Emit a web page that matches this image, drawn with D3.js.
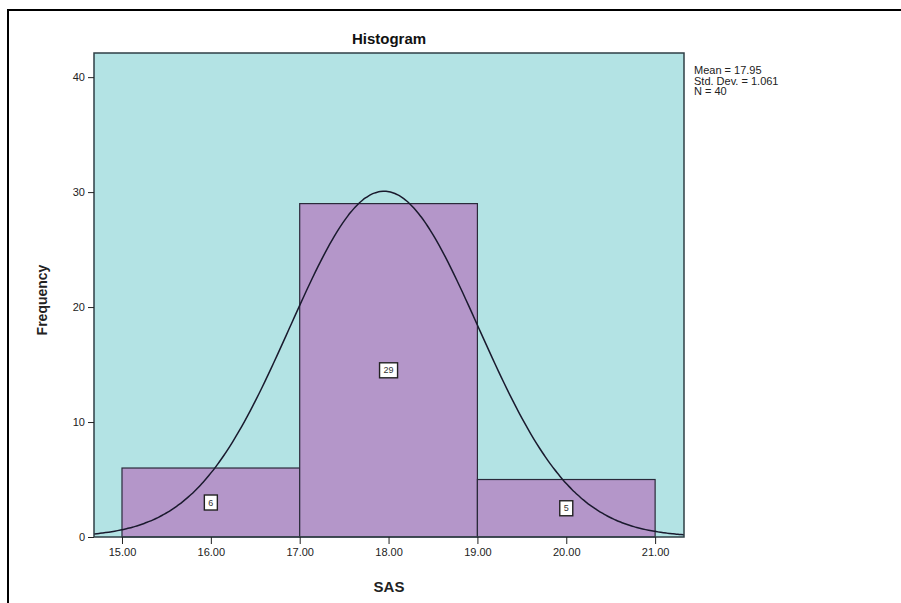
<!DOCTYPE html>
<html>
<head>
<meta charset="utf-8">
<script src="https://cdn.jsdelivr.net/npm/d3@7"></script>
<style>
  body { margin: 0; background: #fff; }
  svg { display: block; font-family: "Liberation Sans", Arial, sans-serif; }
</style>
</head>
<body>
<svg id="chart" width="901" height="603"></svg>
<script>
// ---- data ----
const binStarts = [15, 17, 19];
const binEnds = [17, 19, 21];
const counts = [6, 29, 5];
const xTicks = [15, 16, 17, 18, 19, 20, 21];
const yTicks = [0, 10, 20, 30, 40];
const stats = { mean: 17.95, sd: 1.061, n: 40 };
const statLines = ["Mean = 17.95", "Std. Dev. = 1.061", "N = 40"];
const binWidth = 2;

const svg = d3.select("#chart");

// outer frame
svg.append("rect").attr("x", 8).attr("y", 10).attr("width", 920).attr("height", 620)
  .attr("fill", "none").attr("stroke", "#000").attr("stroke-width", 2);

const plot = { left: 94, right: 684, top: 53, bottom: 537 };

const x = d3.scaleLinear().domain([14.685, 21.325]).range([plot.left, plot.right]);
const y = d3.scaleLinear().domain([0, 42.1]).range([plot.bottom, plot.top]);

// background
svg.append("rect").attr("x", plot.left).attr("y", plot.top)
  .attr("width", plot.right - plot.left).attr("height", plot.bottom - plot.top)
  .attr("fill", "#b3e3e4");

// bars
const bars = binStarts.map((s, i) => ({ s, e: binEnds[i], c: counts[i] }));
svg.append("g").selectAll("rect").data(bars).join("rect")
  .attr("x", d => x(d.s)).attr("y", d => y(d.c))
  .attr("width", d => x(d.e) - x(d.s)).attr("height", d => y(0) - y(d.c))
  .attr("fill", "#b496c9").attr("stroke", "#2a2a3a").attr("stroke-width", 1.2);

// normal curve
const curvePts = d3.range(0, 201).map(i => {
  const xv = x.domain()[0] + (x.domain()[1] - x.domain()[0]) * i / 200;
  const z = (xv - stats.mean) / stats.sd;
  const yv = stats.n * binWidth / (stats.sd * Math.sqrt(2 * Math.PI)) * Math.exp(-0.5 * z * z);
  return [xv, yv];
});
svg.append("path").datum(curvePts)
  .attr("d", d3.line().x(d => x(d[0])).y(d => y(d[1])).curve(d3.curveBasis))
  .attr("fill", "none").attr("stroke", "#1a1a2e").attr("stroke-width", 1.5);

// plot frame
svg.append("rect").attr("x", plot.left).attr("y", plot.top)
  .attr("width", plot.right - plot.left).attr("height", plot.bottom - plot.top)
  .attr("fill", "none").attr("stroke", "#2f3f45").attr("stroke-width", 1.5);

// count labels
const lab = svg.append("g").selectAll("g").data(bars).join("g")
  .attr("transform", d => `translate(${x((d.s + d.e) / 2)},${y(d.c / 2)})`);
lab.append("rect")
  .attr("x", d => String(d.c).length > 1 ? -9 : -6.5)
  .attr("y", -7.5)
  .attr("width", d => String(d.c).length > 1 ? 18 : 13)
  .attr("height", 15)
  .attr("fill", "#fff").attr("stroke", "#222").attr("stroke-width", 1.4);
lab.append("text").attr("text-anchor", "middle").attr("dy", "0.35em")
  .attr("font-size", 9).attr("fill", "#333").text(d => d.c);

// axes
const xAxis = svg.append("g").attr("transform", `translate(0,${plot.bottom})`)
  .call(d3.axisBottom(x).tickValues(xTicks).tickFormat(d3.format(".2f")).tickSize(7).tickPadding(4));
xAxis.select(".domain").remove();
xAxis.selectAll("line").attr("stroke", "#222");
xAxis.selectAll("text").attr("font-size", 11).attr("fill", "#222");

const yAxis = svg.append("g").attr("transform", `translate(${plot.left},0)`)
  .call(d3.axisLeft(y).tickValues(yTicks).tickSize(6).tickPadding(3));
yAxis.select(".domain").remove();
yAxis.selectAll("line").attr("stroke", "#222");
yAxis.selectAll("text").attr("font-size", 11).attr("fill", "#222");

// titles
svg.append("text").attr("x", (plot.left + plot.right) / 2).attr("y", 44)
  .attr("text-anchor", "middle").attr("font-size", 15).attr("font-weight", "bold")
  .attr("fill", "#111").text("Histogram");
svg.append("text").attr("x", (plot.left + plot.right) / 2).attr("y", 592)
  .attr("text-anchor", "middle").attr("font-size", 15).attr("font-weight", "bold")
  .attr("fill", "#222").text("SAS");
svg.append("text").attr("transform", `translate(47,${(plot.top + plot.bottom) / 2 + 5}) rotate(-90)`)
  .attr("text-anchor", "middle").attr("font-size", 14).attr("font-weight", "bold")
  .attr("fill", "#222").text("Frequency");

// stats legend
svg.append("g").selectAll("text").data(statLines).join("text")
  .attr("x", 694).attr("y", (d, i) => 74 + i * 10.5)
  .attr("font-size", 11).attr("fill", "#222").text(d => d);
</script>
</body>
</html>
